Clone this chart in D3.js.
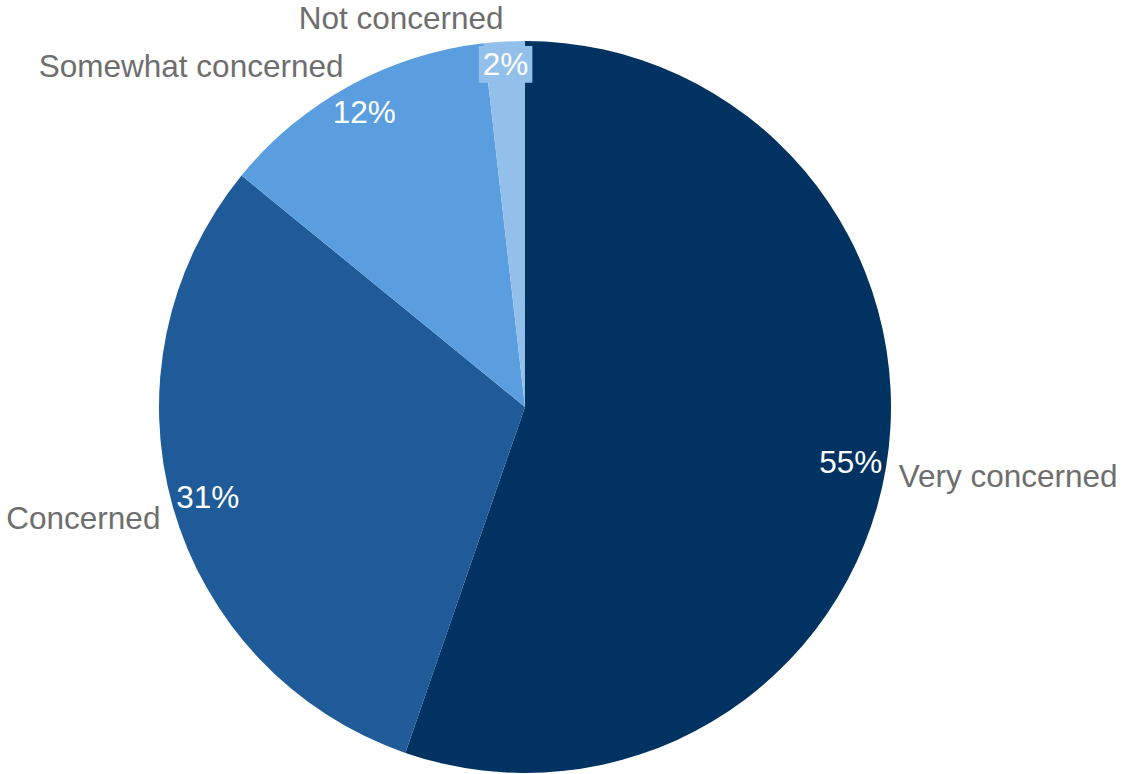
<!DOCTYPE html>
<html><head><meta charset="utf-8">
<script src="https://cdn.jsdelivr.net/npm/d3@7"></script>
<style>body{margin:0;background:#fff}svg{display:block}text{font-family:"Liberation Sans",Arial,sans-serif}</style>
</head><body>
<svg id="c" width="1123" height="774"></svg>
<script>
const categories = ["Very concerned","Concerned","Somewhat concerned","Not concerned"];
const values = [55.3,30.6,12.3,1.8];
const colors = ["#003262","#1E5B98","#5A9EDF","#93BFEB"];
const labelBoxed = [false,false,false,true];

const W=1123,H=774, cx=525, cy=407, R=366, fs=31.5;
const fmt=d3.format(".0f");
const svg=d3.select("#c");
const g=svg.append("g").attr("transform",`translate(${cx},${cy})`);
const pie=d3.pie().sort(null).value(d=>d)(values);
const arc=d3.arc().innerRadius(0).outerRadius(R);
g.selectAll("path").data(pie).join("path").attr("d",arc).attr("fill",(d,i)=>colors[i]);

pie.forEach((d,i)=>{
  const a=(d.startAngle+d.endAngle)/2;
  const dx=Math.sin(a), dy=-Math.cos(a);
  const t=g.append("text").attr("font-size",fs).attr("fill","#fff").attr("text-anchor","middle")
    .attr("dominant-baseline","central").text(fmt(values[i])+"%");
  const bb=t.node().getBBox();
  const pad = labelBoxed[i]?4:0;
  const hw=bb.width/2+pad, hh=bb.height/2*0.8+pad;
  let lo=0,hi=R;
  for(let k=0;k<40;k++){const m=(lo+hi)/2;const x=m*dx,y=m*dy;
    const fx=x+Math.sign(dx||1)*hw, fy=y+Math.sign(dy||1)*hh;
    if(Math.hypot(fx,fy)>R-2) hi=m; else lo=m;}
  const px=lo*dx, py=lo*dy;
  if(labelBoxed[i]){
    g.append("rect").attr("x",px-hw).attr("y",py-hh).attr("width",2*hw).attr("height",2*hh).attr("fill",colors[i]);
    t.raise();
  }
  t.attr("x",px).attr("y",py);
  const gap=13;
  const ox=(R+gap)*dx, oy=(R+gap)*dy;
  const c=g.append("text").attr("font-size",fs).attr("fill","#6e6e6e")
    .attr("text-anchor",dx>=0?"start":"end").attr("dominant-baseline","central").text(categories[i]);
  const cb=c.node().getBBox();
  c.attr("x",ox).attr("y",oy+dy*cb.height*0.8/2+4);
});
</script>
</body></html>
